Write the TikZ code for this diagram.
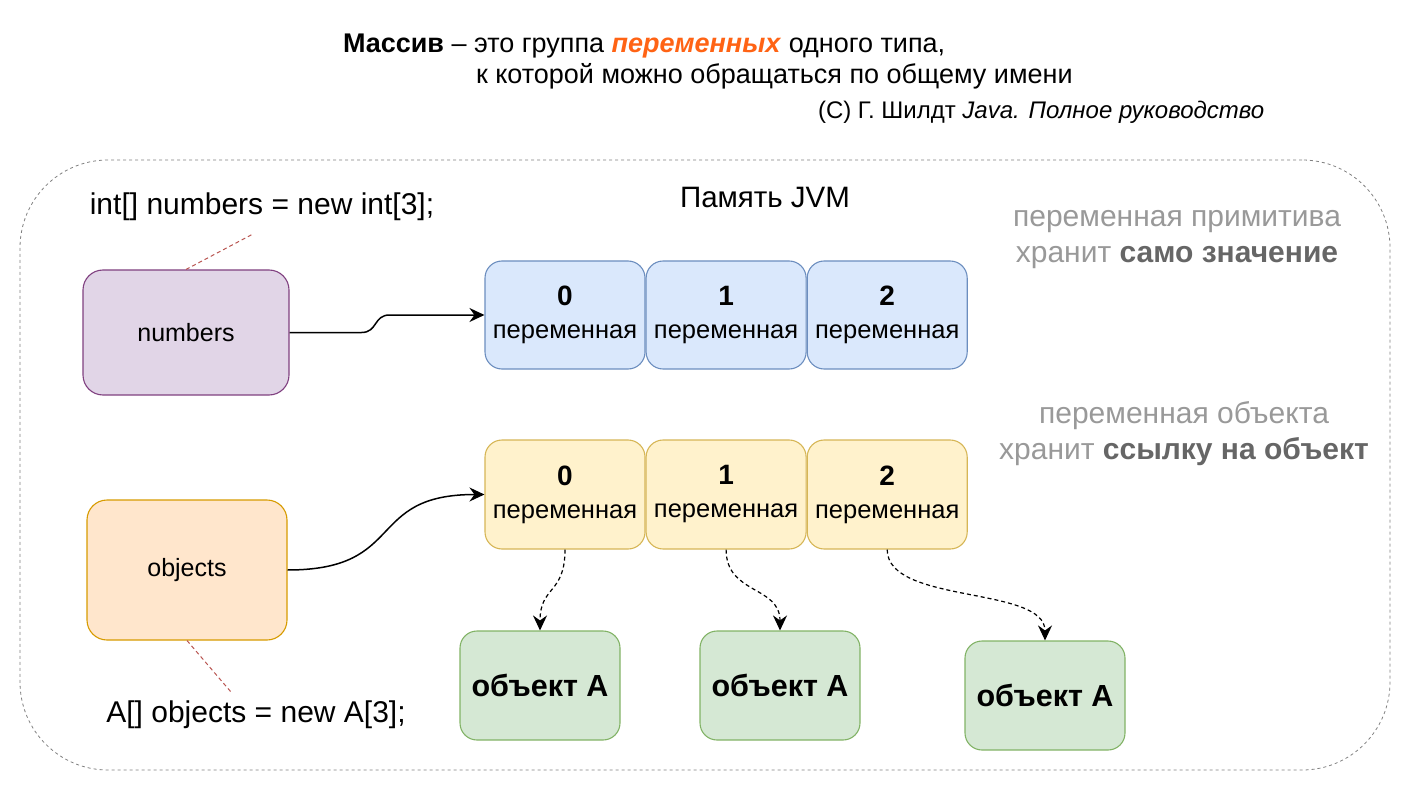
\documentclass[tikz,border=0pt]{standalone}
\usepackage{fontspec}
\setmainfont{Liberation Sans}
\usepackage{xcolor}
\usetikzlibrary{positioning, arrows.meta}
\definecolor{accent}{HTML}{FF6314}
\definecolor{notegray}{HTML}{999999}
\definecolor{notedark}{HTML}{666666}
\definecolor{memgray}{HTML}{808080}
\definecolor{redline}{HTML}{B85450}
\tikzstyle{blockp} = [rectangle, draw=violet!50!gray, rounded corners=20pt, minimum width=206pt, minimum height=125pt, line width=1.1pt, fill={rgb,255:red,225;green,213;blue,231}, font=\fontsize{25}{28}\selectfont]
\tikzstyle{blocko} = [rectangle, draw={rgb,255:red,215;green,155;blue,0}, rounded corners=20pt, minimum width=200pt, minimum height=140pt, line width=1.1pt, fill={rgb,255:red,255;green,230;blue,204}, font=\fontsize{25}{28}\selectfont]
\tikzstyle{blockb} = [rectangle, draw={rgb,255:red,108;green,142;blue,191}, rounded corners=17pt, minimum width=160pt, minimum height=108pt, line width=1.1pt, fill={rgb,255:red,218;green,232;blue,252}, align=center, font=\fontsize{25.5}{33}\selectfont]
\tikzstyle{blocky} = [rectangle, draw={rgb,255:red,214;green,182;blue,86}, rounded corners=17pt, minimum width=160pt, minimum height=109pt, line width=1.1pt, fill={rgb,255:red,255;green,242;blue,204}, align=center, font=\fontsize{25.5}{33}\selectfont]
\tikzstyle{blockg} = [rectangle, draw={rgb,255:red,130;green,179;blue,102}, rounded corners=17pt, minimum width=160pt, minimum height=109pt, line width=1.1pt, fill={rgb,255:red,213;green,232;blue,212}, font=\fontsize{30.5}{34}\selectfont\bfseries]
\tikzstyle{blank} = [inner sep=0, outer sep=0, font=\fontsize{27}{30}\selectfont]
\tikzstyle{code} = [blank, font=\fontsize{30}{36}\selectfont]
\tikzstyle{line} = [draw, line width=1.5pt, ->, >={Stealth[length=15pt, width=14pt, inset=5pt]}]
\tikzstyle{dline} = [line, line width=1.2pt, dash pattern=on 4pt off 3pt]
\tikzstyle{note} = [draw, redline, line width=1pt, dash pattern=on 4pt off 3pt]

\begin{document}
\begin{tikzpicture}[x=1pt, y=-1pt, node distance=0pt, auto]
\useasboundingbox (0,0) rectangle (1412,791);

% heading
\node [blank, anchor=west] (head1) at (343,46) {\textbf{Массив} – это группа \textcolor{accent}{\textbf{\textit{переменных}}} одного типа,};
\node [blank, anchor=west] (head2) at (476,76) {к которой можно обращаться по общему имени};
\node [blank, anchor=west, font=\fontsize{24}{27}\selectfont] (head3) at (818,112) {(С) Г. Шилдт \textit{Java. Полное руководство}};

% memory area
\node [draw=memgray, dashed, line width=0.8pt, rounded corners=88pt, minimum width=1370pt, minimum height=610pt] (jvm) at (705,465) {};
\node [blank, font=\fontsize{29.5}{32}\selectfont] (jvmlabel) at (765,197) {Память JVM};

% primitives
\node [blockp] (numbers) at (186,332.5) {numbers};
\node [code] (decl1) at (262,207) {int[] numbers = new int[3];};
\node [blockb] (n0) at (565,315) {{\fontsize{28}{33}\selectfont\bfseries 0}\\переменная};
\node [blockb, right=of n0] (n1) {{\fontsize{28}{33}\selectfont\bfseries 1}\\переменная};
\node [blockb, right=of n1] (n2) {{\fontsize{28}{33}\selectfont\bfseries 2}\\переменная};
\node [blank, align=center, text=notegray, font=\fontsize{30}{36}\selectfont] (primnote) at (1177,240) {переменная примитива\\хранит \textcolor{notedark}{\textbf{само значение}}};

% objects
\node [blocko] (objects) at (187,570) {objects};
\node [code] (decl2) at (256,715) {A[] objects = new A[3];};
\node [blocky] (y0) at (565,494.5) {{\fontsize{28}{33}\selectfont\bfseries 0}\\переменная};
\node [blocky, right=of y0] (y1) {{\fontsize{28}{33}\selectfont\bfseries 1}\\переменная};
\node [blocky, right=of y1] (y2) {{\fontsize{28}{33}\selectfont\bfseries 2}\\переменная};
\node [blank, align=center, text=notegray, font=\fontsize{30}{36}\selectfont] (objnote) at (1184,434) {переменная объекта\\хранит \textcolor{notedark}{\textbf{ссылку на объект}}};
\node [blockg] (g0) at (540,685.5) {объект A};
\node [blockg] (g1) at (780,685.5) {объект A};
\node [blockg] (g2) at (1045,695.5) {объект A};

\path [note] (numbers.north) -- ([xshift=-9pt,yshift=-13pt]decl1.south);
\path [note] (objects.south) -- ([xshift=-25pt,yshift=9pt]decl2.north);

\path [line] (numbers.east) -- ++(72,0) .. controls +(16,0) and +(-16,0) .. ++(28,-17.5) -- (n0.west);
\path [line] (objects.east) .. controls +(120,0) and +(-120,0) .. (y0.west);
\path [dline] (y0.south) .. controls +(0,45) and +(0,-45) .. (g0.north);
\path [dline] (y1.south) .. controls +(0,45) and +(0,-45) .. (g1.north);
\path [dline] (y2.south) .. controls +(0,55) and +(0,-55) .. (g2.north);

\end{tikzpicture}
\end{document}
